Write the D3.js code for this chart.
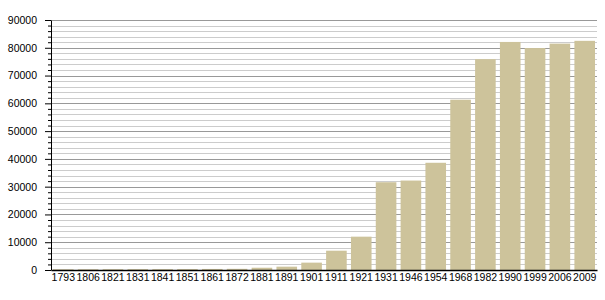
<!DOCTYPE html>
<html>
<head>
<meta charset="utf-8">
<script src="https://cdn.jsdelivr.net/npm/d3@7"></script>
<style>
  body { margin: 0; background: #fff; }
  svg { display: block; }
  text { font-family: "Liberation Sans", Arial, sans-serif; }
</style>
</head>
<body>
<script>
// census years and population
const years = ["1793","1806","1821","1831","1841","1851","1861","1872","1881","1891",
  "1901","1911","1921","1931","1946","1954","1968","1982","1990","1999","2006","2009"];
const population = [250, 260, 280, 300, 300, 320, 380, 420, 820, 1200,
  2650, 6950, 12000, 31600, 32200, 38600, 61300, 75900, 82100, 79900, 81500, 82500];
const yTicks = [0, 10000, 20000, 30000, 40000, 50000, 60000, 70000, 80000, 90000];

const width = 605;
const height = 300;
const margin = { top: 20, right: 8, bottom: 30, left: 51 };
const innerWidth = width - margin.left - margin.right;
const innerHeight = height - margin.top - margin.bottom;

const svg = d3.select("body").append("svg")
  .attr("width", width)
  .attr("height", height);

const g = svg.append("g")
  .attr("transform", `translate(${margin.left},${margin.top})`);

const x = d3.scaleBand().domain(years).range([0, innerWidth]).paddingInner(0.17).paddingOuter(0.08);
const y = d3.scaleLinear().domain([0, 90000]).range([innerHeight, 0]);

// minor grid every 2000
const minor = d3.range(0, 90001, 2000).filter((d) => d % 10000 !== 0);
g.selectAll(".minor").data(minor).enter().append("line")
  .attr("x1", 0).attr("x2", innerWidth)
  .attr("y1", (d) => Math.round(y(d)) + 0.5).attr("y2", (d) => Math.round(y(d)) + 0.5)
  .attr("stroke", "#cccccc").attr("stroke-width", 1);
g.selectAll(".major").data(yTicks.filter((d) => d > 0)).enter().append("line")
  .attr("x1", 0).attr("x2", innerWidth)
  .attr("y1", (d) => Math.round(y(d)) + 0.5).attr("y2", (d) => Math.round(y(d)) + 0.5)
  .attr("stroke", "#999999").attr("stroke-width", 1);

// bars
g.selectAll("rect").data(years).enter().append("rect")
  .attr("x", (d) => x(d))
  .attr("y", (d, i) => y(population[i]))
  .attr("width", x.bandwidth())
  .attr("height", (d, i) => innerHeight - y(population[i]))
  .attr("fill", "#cdc39b");

// y axis with minor ticks
g.append("g")
  .call(d3.axisLeft(y).tickValues(minor).tickSize(3).tickFormat(""))
  .call((a) => a.select(".domain").remove());
const yAxis = g.append("g")
  .call(d3.axisLeft(y).tickValues(yTicks).tickSize(6).tickSizeOuter(0).tickPadding(8).tickFormat(d3.format("d")));
yAxis.selectAll("text").style("font-size", "10.5px").attr("fill", "#000");
yAxis.selectAll("line, path").attr("stroke", "#000");

// x axis
const xAxis = g.append("g")
  .attr("transform", `translate(0,${innerHeight})`)
  .call(d3.axisBottom(x).tickSize(0).tickSizeOuter(0).tickPadding(4));
xAxis.selectAll("text").style("font-size", "10.5px").attr("fill", "#000");
xAxis.select(".domain").attr("stroke", "#000").attr("stroke-width", 1.5);
</script>
</body>
</html>
